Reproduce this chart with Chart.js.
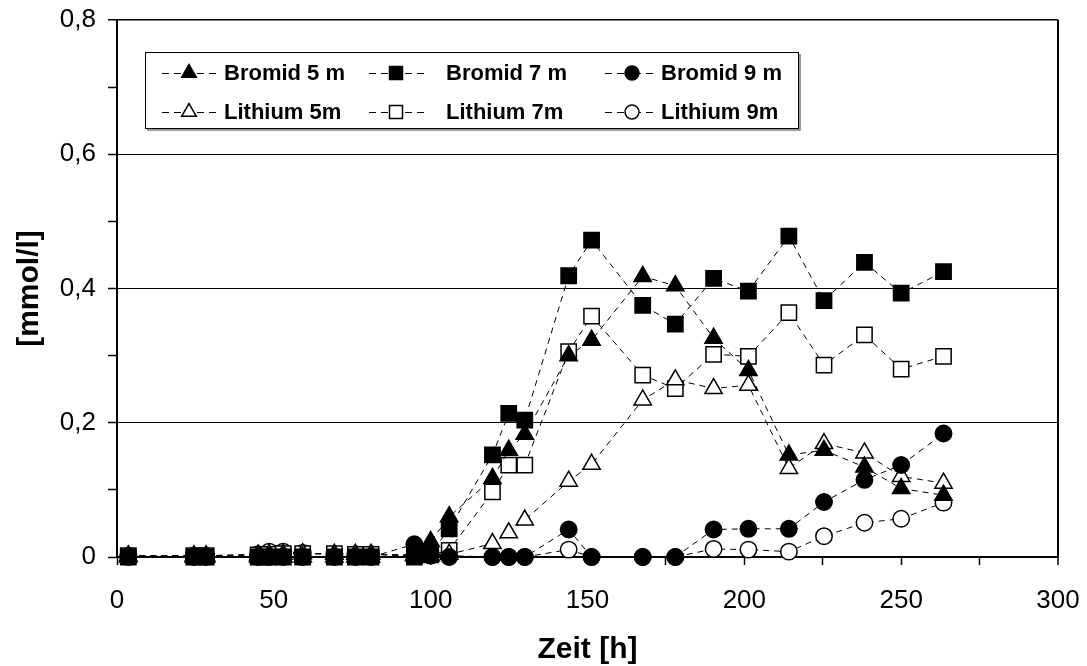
<!DOCTYPE html>
<html><head><meta charset="utf-8">
<script src="https://cdn.jsdelivr.net/npm/chart.js@4.4.1/dist/chart.umd.min.js"></script>
<style>html,body{margin:0;padding:0;background:#fff;} canvas{display:block;}</style>
</head><body>
<canvas id="c" width="1087" height="666"></canvas>
<script>
// Zeit [h]
const timesH = [3.6, 24.5, 28.4, 45, 48.5, 53, 59.2, 69.3, 76, 81, 94.8, 100, 105.9, 119.7, 124.9, 130, 144, 151.3, 167.6, 178, 190.2, 201.3, 214.2, 225.4, 238.3, 250, 263.5];
// [mmol/l]
const bromid5m  = [0,0,0,0,0,0,0,0,0,0,0.003,0.023,0.060,0.117,0.159,0.183,0.300,0.323,0.418,0.404,0.326,0.278,0.152,0.159,0.134,0.102,0.092];
const bromid7m  = [0,0,0,0,0,0,0,0,0,0,0,0.005,0.042,0.152,0.214,0.204,0.419,0.472,0.375,0.347,0.415,0.396,0.478,0.382,0.439,0.393,0.425];
const bromid9m  = [0,0,0,0,0,0,0,0,0,0,0.019,0.004,0,0,0,0,0.041,0,0,0,0.041,0.042,0.042,0.082,0.115,0.137,0.184];
const lithium5m = [0.002,0.002,0.002,0.003,0.004,0.004,0.005,0.004,0.004,0.004,0.002,0.002,0.004,0.020,0.036,0.055,0.113,0.138,0.234,0.264,0.251,0.256,0.132,0.169,0.155,0.120,0.110];
const lithium7m = [0.002,0.002,0.002,0.003,0.004,0.005,0.005,0.005,0.004,0.004,0.003,0.003,0.010,0.097,0.137,0.137,0.306,0.359,0.271,0.251,0.302,0.299,0.364,0.286,0.331,0.280,0.299];
const lithium9m = [0.002,0.002,0.002,0.004,0.008,0.008,0.006,0.004,0.004,0.004,0.002,0.002,0.002,0,0,0,0.011,0,0,0,0.012,0.011,0.008,0.031,0.051,0.057,0.081];

const seriesLabels = ['Bromid 5 m', 'Bromid 7 m', 'Bromid 9 m', 'Lithium 5m', 'Lithium 7m', 'Lithium 9m'];
const seriesValues = [bromid5m, bromid7m, bromid9m, lithium5m, lithium7m, lithium9m];
const xTitle = 'Zeit [h]';
const yTitle = '[mmol/l]';

const FONT = '"Liberation Sans", Arial, sans-serif';
const styles = [
  {pointStyle: 'triangle', r: 10, fill: '#000'},
  {pointStyle: 'rect', r: 10.8, fill: '#000'},
  {pointStyle: 'circle', r: 8.2, fill: '#000'},
  {pointStyle: 'triangle', r: 10, fill: '#fff'},
  {pointStyle: 'rect', r: 10.8, fill: '#fff'},
  {pointStyle: 'circle', r: 8.2, fill: '#fff'}
];

const datasets = seriesLabels.map((lab, i) => ({
  label: lab,
  data: timesH.map((t, j) => ({x: t, y: seriesValues[i][j]})),
  borderColor: '#000',
  borderWidth: 1,
  borderDash: [6, 5],
  pointStyle: styles[i].pointStyle,
  pointRadius: styles[i].r,
  pointBackgroundColor: styles[i].fill,
  pointBorderColor: '#000',
  pointBorderWidth: 1.5,
  tension: 0,
  clip: false
}));

function drawMarker(ctx, style, x, y, r, fill) {
  ctx.save();
  ctx.fillStyle = fill; ctx.strokeStyle = '#000'; ctx.lineWidth = 1.5; ctx.setLineDash([]);
  ctx.beginPath();
  if (style === 'triangle') {
    ctx.moveTo(x, y - r);
    ctx.lineTo(x + r * Math.sin(2 * Math.PI / 3), y + r / 2);
    ctx.lineTo(x - r * Math.sin(2 * Math.PI / 3), y + r / 2);
    ctx.closePath();
  } else if (style === 'rect') {
    const s = r * Math.SQRT1_2;
    ctx.rect(x - s, y - s, 2 * s, 2 * s);
  } else {
    ctx.arc(x, y, r, 0, Math.PI * 2);
  }
  ctx.fill(); ctx.stroke();
  ctx.restore();
}

const boxLegend = {
  id: 'boxLegend',
  afterDraw(chart) {
    const ctx = chart.ctx;
    ctx.save();
    ctx.fillStyle = '#9a9a9a';
    ctx.fillRect(147, 54, 654, 77);
    ctx.fillStyle = '#fff';
    ctx.fillRect(145, 52, 654, 77);
    ctx.strokeStyle = '#000'; ctx.lineWidth = 1;
    ctx.strokeRect(145.5, 52.5, 653, 76);
    const cols = [189, 396, 632];
    const textX = [224, 446, 661];
    const rows = [73, 112];
    chart.data.datasets.forEach((ds, i) => {
      const c = i % 3, rr = Math.floor(i / 3);
      const cx = cols[c], cy = rows[rr];
      const x0 = cx - 27, x1 = Math.min(cx + 28, textX[c] - 8);
      ctx.strokeStyle = '#000'; ctx.lineWidth = 1; ctx.setLineDash([7, 5]);
      ctx.beginPath(); ctx.moveTo(x0, cy + 0.5); ctx.lineTo(cx, cy + 0.5); ctx.stroke();
      ctx.beginPath(); ctx.moveTo(x1, cy + 0.5); ctx.lineTo(cx, cy + 0.5); ctx.stroke();
      ctx.setLineDash([]);
      drawMarker(ctx, styles[i].pointStyle, cx, cy, styles[i].r * 0.85, styles[i].fill);
      ctx.fillStyle = '#000';
      ctx.font = 'bold 22px ' + FONT;
      ctx.textBaseline = 'middle'; ctx.textAlign = 'left';
      ctx.fillText(ds.label, textX[c], cy + 1);
    });
    ctx.restore();
  }
};

const is02 = v => Math.abs(v * 5 - Math.round(v * 5)) < 1e-6;

new Chart(document.getElementById('c'), {
  type: 'line',
  data: {datasets},
  plugins: [boxLegend],
  options: {
    responsive: false,
    animation: false,
    devicePixelRatio: 1,
    layout: {padding: {top: 20, right: 29, left: 0, bottom: 0}},
    plugins: {legend: {display: false}, tooltip: {enabled: false}},
    scales: {
      x: {
        type: 'linear', min: 0, max: 300,
        afterFit(s) { s.height = 109; s.paddingLeft = 0; s.paddingRight = 0; },
        ticks: {stepSize: 25, autoSkip: false, maxRotation: 0, padding: 20, color: '#000',
          font: {family: FONT, size: 26},
          callback: v => (v % 50 === 0 ? String(v) : '')},
        grid: {
          drawOnChartArea: true, tickLength: 8,
          color: c => (c.tick && c.tick.value === 300 ? '#000' : 'rgba(0,0,0,0)'),
          lineWidth: c => (c.tick && c.tick.value === 300 ? 2 : 1),
          tickColor: '#000', tickWidth: 1.5
        },
        border: {display: true, color: '#000', width: 2},
        title: {display: true, text: xTitle, color: '#000', padding: {top: 0, bottom: 0},
          font: {family: FONT, size: 30, weight: 'bold', lineHeight: 1.1}}
      },
      y: {
        type: 'linear', min: 0, max: 0.8,
        afterFit(s) { s.width = 117; s.paddingTop = 0; s.paddingBottom = 0; },
        ticks: {stepSize: 0.1, autoSkip: false, padding: 12, color: '#000',
          font: {family: FONT, size: 26},
          callback: v => (v === 0 ? '0' : (is02(v) ? v.toFixed(1).replace('.', ',') : ''))},
        grid: {
          drawOnChartArea: true, tickLength: 9,
          color: c => (c.tick && c.tick.value > 0 && is02(c.tick.value) ? '#000' : 'rgba(0,0,0,0)'),
          lineWidth: c => (c.tick && Math.abs(c.tick.value - 0.8) < 1e-6 ? 1.5 : 1),
          tickColor: '#000', tickWidth: 1.5
        },
        border: {display: true, color: '#000', width: 2},
        title: {display: true, text: yTitle, color: '#000', padding: {top: 12, bottom: 0},
          font: {family: FONT, size: 30, weight: 'bold'}}
      }
    }
  }
});
</script>
</body></html>
